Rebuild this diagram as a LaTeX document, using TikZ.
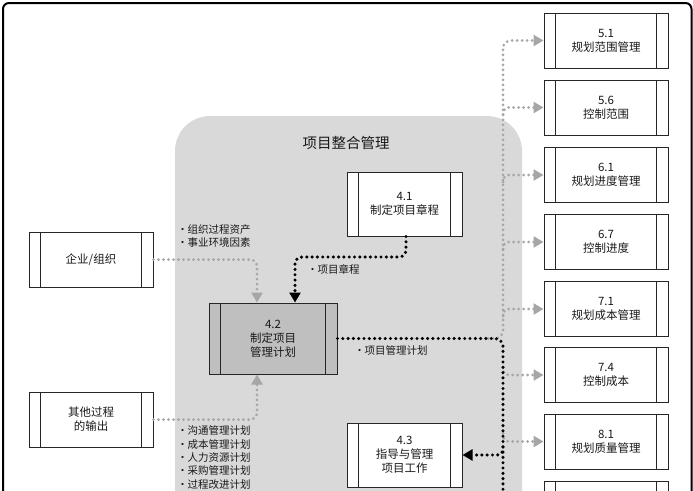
\documentclass[tikz,border=0pt]{standalone}
\usepackage{fontspec}
\setmainfont{Noto Sans CJK SC}
\usetikzlibrary{arrows.meta,calc}
\newcommand{\mybul}{\makebox[5pt][c]{•}\hspace{2.5pt}}
\begin{document}
\begin{tikzpicture}[x=1pt,y=-1pt,
  bar/.style={draw=black!85, line width=1pt},
  procbox/.style={draw=black!85, line width=1pt, fill=white, inner sep=0pt, align=center,
    minimum width=124pt, minimum height=55pt, text=black!90,
    font=\fontsize{11.5}{14}\selectfont,
    path picture={
      \draw[bar] ([xshift=11.5pt]path picture bounding box.north west) -- ([xshift=11.5pt]path picture bounding box.south west);
      \draw[bar] ([xshift=-11.5pt]path picture bounding box.north east) -- ([xshift=-11.5pt]path picture bounding box.south east);}},
  smallbox/.style={procbox, minimum width=115pt, minimum height=64pt},
  lbl/.style={font=\fontsize{10.5}{13.3}\selectfont, align=left, inner sep=0pt, anchor=west, text=black!90},
  tip/.style={-{Triangle[length=10pt,width=11pt]}},
  blackdot/.style={draw=black, line width=3.4pt, dash pattern=on 0pt off 5.3pt, line cap=round},
  graydot/.style={draw=black!35, line width=3pt, dash pattern=on 0pt off 5pt, line cap=round},
]
\useasboundingbox (0,0) rectangle (693,490);
\clip (0,0) rectangle (693,490);
\fill[white] (0,0) rectangle (693,490);

% integration area
\fill[black!15, rounded corners=35pt] (175,116) rectangle (522,560);
\node[font=\fontsize{14.5}{17}\selectfont, text=black!90] (title) at (346,143) {项目整合管理};

% outer frame
\draw[line width=2pt, rounded corners=6pt] (3,3) rectangle (691.5,560);

% right-hand process boxes
\node[procbox] (b51) at (606,40.5) {5.1\\规划范围管理};
\node[procbox] (b56) at (606,107.5) {5.6\\控制范围};
\node[procbox] (b61) at (606,175) {6.1\\规划进度管理};
\node[procbox] (b67) at (606,242) {6.7\\控制进度};
\node[procbox] (b71) at (606,309) {7.1\\规划成本管理};
\node[procbox] (b74) at (606,375) {7.4\\控制成本};
\node[procbox] (b81) at (606,441.5) {8.1\\规划质量管理};
\node[procbox] (b83) at (606,508.5) {};

% left boxes
\node[procbox] (qy) at (91,259.5) {企业/组织};
\node[procbox] (qt) at (91,419.5) {其他过程\\的输出};

% integration processes
\node[smallbox] (b41) at (404.5,204) {4.1\\制定项目章程};
\node[procbox, fill=black!25, minimum width=128pt, minimum height=71pt] (b42) at (273,338.5) {4.2\\制定项目\\管理计划};
\node[smallbox] (b43) at (404.5,455) {4.3\\指导与管理\\项目工作};

% coordinates
\coordinate (j) at (503,338.5);
\coordinate (k1) at (295,257);
\coordinate (g0) at (488,338.5);
\coordinate (jb) at (503,500);

% gray inputs to 4.2
\draw[graydot, tip, rounded corners=7pt] (qy.east) -| ([xshift=-16pt]b42.north);
\draw[graydot, tip, rounded corners=7pt] (qt.east) -| ([xshift=-16pt]b42.south);

% gray outputs of 4.2
\draw[graydot, tip, rounded corners=8pt] (g0) -- (j) -- (j |- b51.west) -- (b51.west);
\foreach \n in {b56,b61,b67,b71}
  \draw[graydot, tip, rounded corners=6pt] ($(j |- \n.west)+(0,7)$) |- (\n.west);
\foreach \n in {b74,b81}
  \draw[graydot, tip, rounded corners=6pt] ($(j |- \n.west)+(0,-8)$) |- (\n.west);

% black flows
\draw[blackdot, tip, rounded corners=7pt] ([xshift=1.5pt]b41.south) |- (k1) -- ([xshift=22pt]b42.north);
\draw[blackdot, rounded corners=8pt] (b42.east) -- (j) -- (jb);
\draw[blackdot, tip, rounded corners=6pt] ($(j |- b43.east)+(0,-8)$) |- (b43.east);

% labels
\node[lbl] (l1) at (180,236) {\mybul 组织过程资产\\\mybul 事业环境因素};
\node[lbl] (l2) at (310,269) {\mybul 项目章程};
\node[lbl] (l3) at (357,350) {\mybul 项目管理计划};
\node[lbl] (l4) at (180,457.5) {\mybul 沟通管理计划\\\mybul 成本管理计划\\\mybul 人力资源计划\\\mybul 采购管理计划\\\mybul 过程改进计划};
\end{tikzpicture}
\end{document}
